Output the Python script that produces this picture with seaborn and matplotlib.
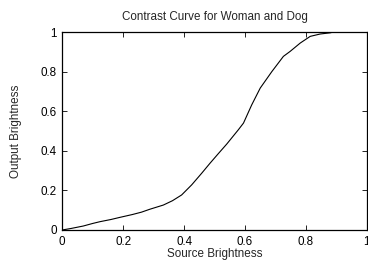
import matplotlib
matplotlib.use("Agg")
import matplotlib.pyplot as plt
import seaborn as sns
import pandas as pd

# Curve values
source = [0.0, 0.03, 0.069, 0.1, 0.124, 0.16, 0.19, 0.23, 0.26, 0.288, 0.332,
          0.362, 0.392, 0.425, 0.458, 0.485, 0.512, 0.54, 0.578, 0.595, 0.622,
          0.65, 0.688, 0.726, 0.748, 0.781, 0.814, 0.847, 0.88, 0.89]
output = [0.0, 0.008, 0.02, 0.033, 0.042, 0.053, 0.064, 0.078, 0.09, 0.105, 0.126,
          0.148, 0.177, 0.228, 0.287, 0.337, 0.385, 0.434, 0.506, 0.54, 0.632,
          0.717, 0.80, 0.877, 0.902, 0.944, 0.978, 0.99, 0.996, 1.0]
ticks = [0, 0.2, 0.4, 0.6, 0.8, 1]
tick_labels = ["0", "0.2", "0.4", "0.6", "0.8", "1"]

sns.set_style("ticks")
plt.rcParams['font.family'] = ['Liberation Sans', 'DejaVu Sans']

df = pd.DataFrame({'source': source, 'output': output})

fig = plt.figure(figsize=(3.68, 2.69), dpi=100)
ax = fig.add_axes([0.169, 0.145, 0.828, 0.736])
sns.lineplot(data=df, x='source', y='output', ax=ax, color='black', linewidth=0.8)

ax.set_xlim(0, 1)
ax.set_ylim(0, 1)
ax.set_xticks(ticks)
ax.set_xticklabels(tick_labels)
ax.set_yticks(ticks)
ax.set_yticklabels(tick_labels)
ax.tick_params(direction='in', length=3.5, width=0.6, labelsize=8.4,
               top=True, right=True, pad=4, colors='black')
for spine in ax.spines.values():
    spine.set_visible(True)
    spine.set_linewidth(0.9)
    spine.set_color('black')

ax.set_title('Contrast Curve for Woman and Dog', fontsize=8.4, pad=9)
ax.set_xlabel('Source Brightness', fontsize=8.4, labelpad=0)
ax.set_ylabel('Output Brightness', fontsize=8.4, labelpad=13)

plt.savefig('out.png', dpi=100)
plt.close()
